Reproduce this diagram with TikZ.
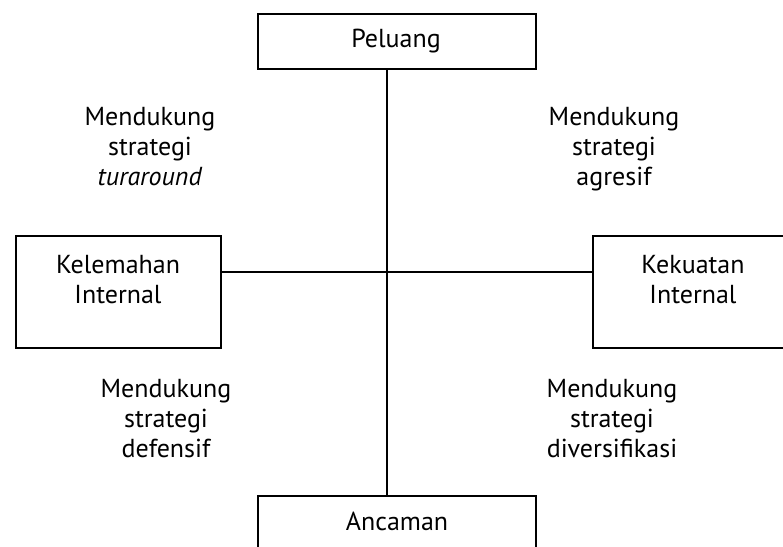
\documentclass[tikz,border=0pt]{standalone}
\usepackage{fontspec}
\setmainfont{PT Sans}
\begin{document}
\begin{tikzpicture}[x=1pt,y=-1pt,
  box/.style={draw,line width=2pt,rectangle,inner sep=0pt,anchor=north west},
  lbl/.style={align=center,inner sep=0pt,font=\fontsize{26}{30}\selectfont,anchor=base},
  conn/.style={line width=2pt}]
\clip (0,0) rectangle (783,546);
\useasboundingbox (0,0) rectangle (783,546);
% boxes
\node[box,minimum width=278pt,minimum height=55pt] (peluang) at (257,13) {};
\node[box,minimum width=205pt,minimum height=112pt] (kelemahan) at (15,235) {};
\node[box,minimum width=220pt,minimum height=112pt] (kekuatan) at (592,235) {};
\node[box,minimum width=278pt,minimum height=80pt] (ancaman) at (257,495) {};
% connectors
\coordinate (mid) at (387,272);
\draw[conn] (mid |- peluang.south) -- (mid |- ancaman.north);
\draw[conn] (kelemahan.east |- mid) -- (kekuatan.west |- mid);
% box texts (anchor base = baseline of last line)
\node[lbl] (tP) at (396,47) {Peluang};
\node[lbl] (tK1) at (118,303) {Kelemahan\\Internal};
\node[lbl] (tK2) at (693,303) {Kekuatan\\Internal};
\node[lbl] (tA) at (397,530) {Ancaman};
% quadrant texts
\node[lbl] (q1) at (150,185) {Mendukung\\strategi\\\textit{turaround}};
\node[lbl] (q2) at (614,185) {Mendukung\\strategi\\agresif};
\node[lbl] (q3) at (166,457) {Mendukung\\strategi\\defensif};
\node[lbl] (q4) at (612,457) {Mendukung\\strategi\\diversifikasi};
\end{tikzpicture}
\end{document}
